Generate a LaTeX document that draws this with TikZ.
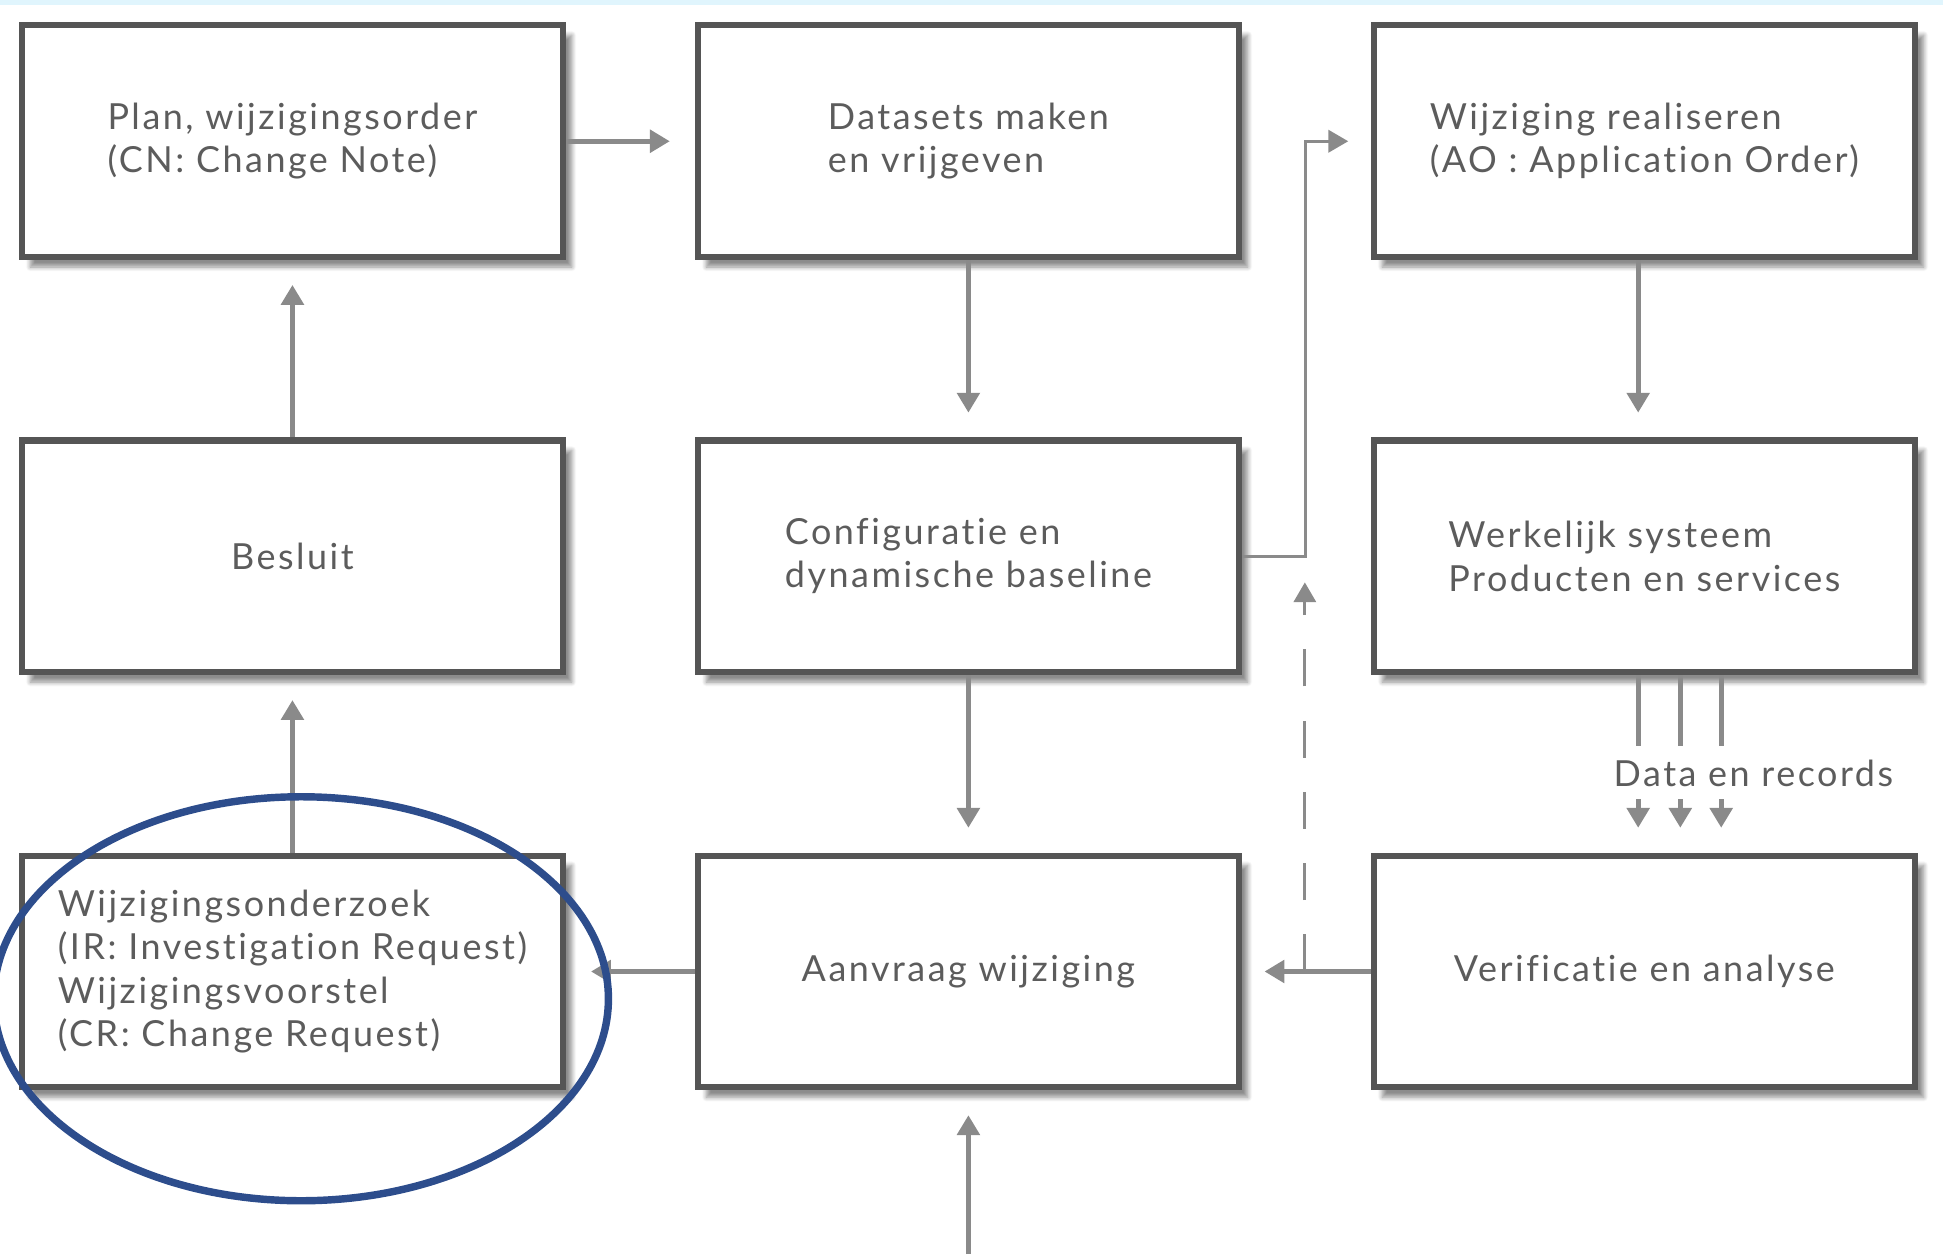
\documentclass[tikz,border=0pt]{standalone}
\usepackage{fontspec}
\setmainfont{Lato}[LetterSpace=7, Ligatures=NoCommon]
\usetikzlibrary{arrows.meta, positioning, shadows.blur}
\definecolor{randgrijs}{HTML}{555555}
\definecolor{tekstgrijs}{HTML}{5C5C5C}
\definecolor{pijlgrijs}{HTML}{8A8A8A}
\definecolor{cirkelblauw}{HTML}{2D4D8C}
\begin{document}
\begin{tikzpicture}[
  stap/.style={draw=randgrijs, line width=0.1cm, fill=white, minimum width=8.74cm, minimum height=3.74cm,
    align=left, text=tekstgrijs, font=\fontsize{16.5}{19.8}\selectfont,
    blur shadow={shadow xshift=0.14cm, shadow yshift=-0.16cm, shadow blur steps=8, shadow opacity=45}},
  pijl/.style={draw=pijlgrijs, line width=0.075cm, -{Triangle[width=0.36cm,length=0.32cm]}, shorten >=0.4cm},
  lijn/.style={draw=pijlgrijs, line width=0.075cm},
  label/.style={text=tekstgrijs, font=\fontsize{16.5}{19.8}\selectfont}
]
\useasboundingbox (0,0) rectangle (31.36,20.24);
\fill[cyan!12] (0,20.16) rectangle (31.36,20.24);

\node[stap] (plan) at (4.72,17.96) {Plan, wijzigingsorder\\(CN: Change Note)};
\node[stap] (datasets) at (15.63,17.96) {Datasets maken\\en vrijgeven};
\node[stap] (realiseren) at (26.54,17.96) {Wijziging realiseren\\(AO : Application Order)};
\node[stap] (besluit) at (4.72,11.26) {Besluit};
\node[stap] (config) at (15.63,11.26) {Configuratie en\\dynamische baseline};
\node[stap] (systeem) at (26.54,11.26) {Werkelijk systeem\\Producten en services};
\node[stap] (onderzoek) at (4.72,4.56) {Wijzigingsonderzoek\\(IR: Investigation Request)\\Wijzigingsvoorstel\\(CR: Change Request)};
\node[stap] (aanvraag) at (15.63,4.56) {Aanvraag wijziging};
\node[stap] (verificatie) at (26.54,4.56) {Verificatie en analyse};

\coordinate (invoer) at (15.63,0);
\coordinate (dvoet) at (21.06,4.56);
\coordinate (dtop) at (21.06,10.84);

\draw[pijl] (plan) -- (datasets);
\draw[pijl] (datasets) -- (config);
\draw[pijl] ([xshift=-0.1cm]realiseren.south) -- ([xshift=-0.1cm]systeem.north);
\draw[pijl, line width=0.045cm, shorten >=0.36cm] (config.east) -- ++(1.02,0) |- (realiseren.west);
\draw[pijl] (config) -- (aanvraag);
\draw[pijl] (besluit) -- (plan);
\draw[pijl] (onderzoek) -- (besluit);
\draw[pijl] (aanvraag) -- (onderzoek);
\draw[pijl, shorten >=0.36cm] (verificatie) -- (aanvraag);
\draw[pijl, line width=0.045cm, shorten >=0cm, dash pattern=on 0.6cm off 0.55cm] (dvoet) -- (dtop);
\draw[pijl] (invoer) -- (aanvraag);

\foreach \dx in {-0.1,0.58,1.24}{
  \draw[lijn] ([xshift=\dx cm]systeem.south) -- ++(0,-1.14);
  \draw[pijl, shorten >=0cm] ([xshift=\dx cm, yshift=0.86cm]verificatie.north) -- ([xshift=\dx cm, yshift=0.4cm]verificatie.north);
};
\node[label] (data) at (28.3,7.76) {Data en records};

\draw[cirkelblauw, line width=0.12cm] (4.86,4.12) ellipse [x radius=4.96cm, y radius=3.26cm];
\end{tikzpicture}
\end{document}
